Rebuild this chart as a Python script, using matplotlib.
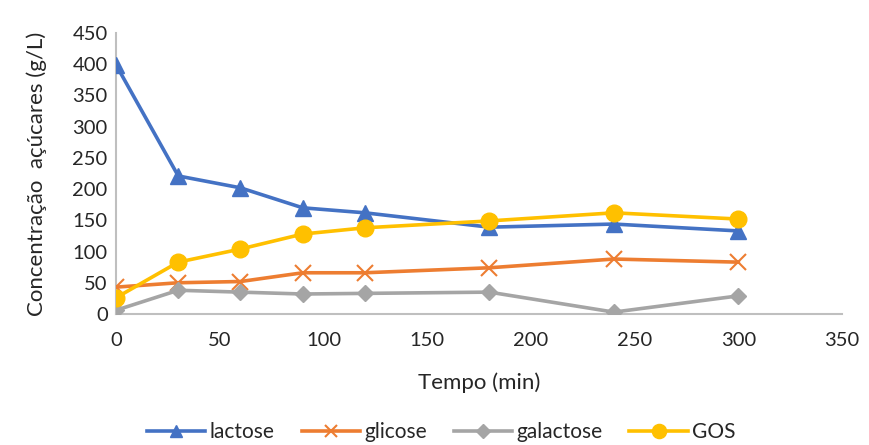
import matplotlib.pyplot as plt

plt.rcParams['font.family'] = ['Lato', 'DejaVu Sans']

# Data
tempo = [0, 30, 60, 90, 120, 180, 240, 300]
lactose = [399, 221, 202, 170, 162, 139, 144, 133]
glicose = [43, 50, 52, 66, 66, 74, 88, 83]
galactose = [6, 38, 35, 32, 33, 35, 3, 29]
gos = [26, 83, 104, 128, 138, 149, 162, 152]

fig = plt.figure(figsize=(8.69, 4.45), dpi=100)
ax = fig.add_axes([0.1335, 0.2944, 0.8355, 0.6316])

ax.plot(tempo, lactose, color='#4472C4', lw=2.6, marker='^', ms=11, label='lactose', zorder=3)
ax.plot(tempo, glicose, color='#ED7D31', lw=2.6, marker='x', ms=11, mew=1.5, label='glicose', zorder=3)
ax.plot(tempo, galactose, color='#A5A5A5', lw=2.6, marker='D', ms=8, label='galactose', zorder=3)
ax.plot(tempo, gos, color='#FFC000', lw=2.6, marker='o', ms=12, label='GOS', zorder=4)

ax.set_xlim(0, 350)
ax.set_ylim(0, 450)
ax.set_xticks(range(0, 351, 50))
ax.set_yticks(range(0, 451, 50))
ax.tick_params(length=0, labelsize=14.5, colors='#262626')
ax.tick_params(axis='x', pad=13)
ax.tick_params(axis='y', pad=6)

for s in ['top', 'right']:
    ax.spines[s].set_visible(False)
for s in ['left', 'bottom']:
    ax.spines[s].set_color('#BFBFBF')
    ax.spines[s].set_linewidth(1.5)

ax.set_xlabel('Tempo (min)', fontsize=16, labelpad=17, color='#262626')
ax.set_ylabel('Concentração  açúcares (g/L)', fontsize=16, labelpad=18, color='#262626')

ax.legend(loc='center', bbox_to_anchor=(0.448, -0.42), ncol=4, frameon=False,
          fontsize=15, handlelength=2.8, columnspacing=1.3, handletextpad=0.2,
          markerscale=0.85, labelcolor='#262626', borderpad=0)

plt.savefig('out.png', dpi=100)
